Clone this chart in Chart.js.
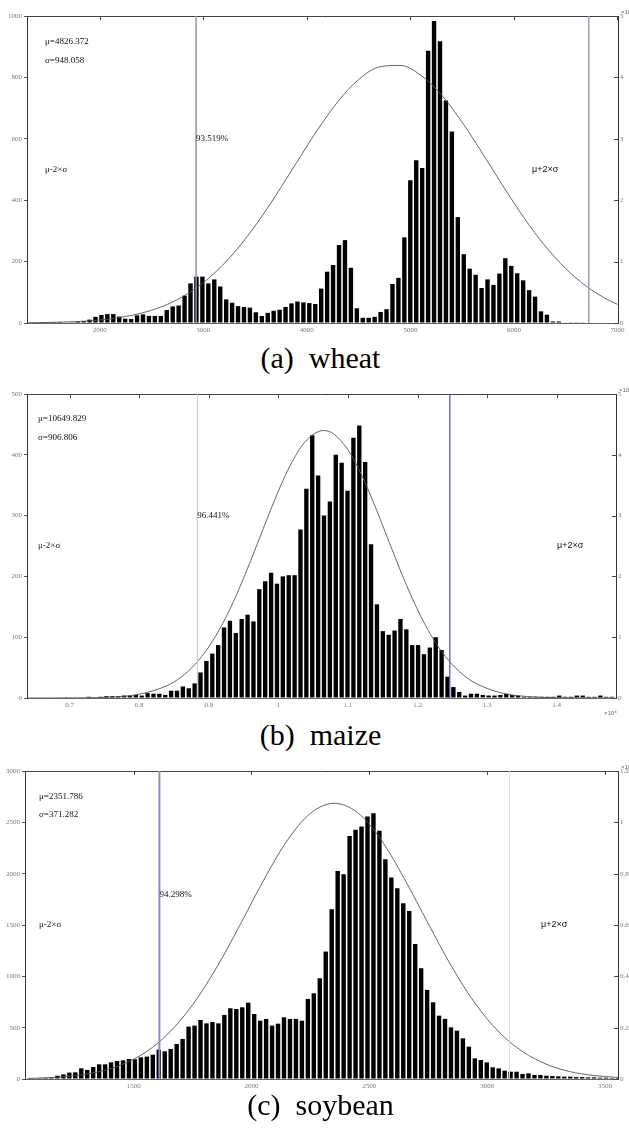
<!DOCTYPE html>
<html>
<head>
<meta charset="utf-8">
<script src="https://cdn.jsdelivr.net/npm/chart.js@4.4.1/dist/chart.umd.min.js"></script>
<style>
  html, body { margin: 0; padding: 0; background: #fff; }
  body { position: relative; width: 629px; height: 1132px; overflow: hidden; }
  canvas { position: absolute; left: 0; }
  .cap { position: absolute; left: 6px; width: 629px; text-align: center;
         font: 30px/30px "Liberation Serif", "Times New Roman", serif; color: #000; white-space: pre; }
</style>
</head>
<body>
<canvas id="wheat" width="629" height="340" style="top:0px"></canvas>
<div class="cap" style="top:343px">(a)  wheat</div>
<canvas id="maize" width="629" height="340" style="top:375px"></canvas>
<div class="cap" style="top:720px">(b)  maize</div>
<canvas id="soybean" width="629" height="340" style="top:755px"></canvas>
<div class="cap" style="top:1090px">(c)  soybean</div>
<script>
// histogram counts per bin
const wheatCounts = [3,3,3,3,2,1,6,6,11,20, 26,29,29,21,14,13,25,28,23,23,
  23,42,54,57,89,129,151,151,129,142, 119,77,66,55,52,50,35,23,33,40,
  43,52,64,70,67,65,62,112,167,189, 254,270,180,48,17,17,20,36,45,127,
  147,279,465,530,505,887,984,918,725,624, 345,224,177,157,114,142,124,161,211,186,
  162,139,107,86,38,27,5,5,2,1, 1,1];
const maizeCounts = [1,0,0,0,2,1,2,3,3,3, 4,4,5,4,8,7,7,5,12,12,
  19,16,24,42,61,73,87,116,127,107, 130,137,126,179,192,206,188,200,202,202,
  277,344,432,366,300,323,400,387,341,428, 448,388,253,154,110,104,111,130,113,87,
  87,72,83,100,79,35,18,10,4,7, 7,5,4,4,5,7,5,4,2,2,
  2,2,2,2,4,2,2,4,4,2, 2,4,2,2];
const soyCounts = [5,6,8,10,14,32,45,62,65,104, 88,117,143,143,162,175,182,195,192,211,
  218,237,286,270,292,341,390,510,520,575, 542,555,542,624,689,682,698,744,633,568,
  585,520,539,601,585,585,568,780,835,981, 1241,1654,2027,1995,2368,2427,2459,2557,2589,2417,
  2141,1962,1858,1712,1637,1316,1079,868,747,617, 585,503,471,396,315,201,185,162,114,104,
  81,71,71,49,55,39,39,32,29,26, 23,23,19,19,16,16,13,13,10,10];

// first bin centre and bin width
const wheatBins = [1442, 57.37];
const maizeBins = [6938, 84.5];
const soyBins = [1050, 25.3];

// fitted normal curves, density (right axis units)
const wheatCurveX = [1300,1500,1700,1900,2100,2300,2500,2700,2900,3100,3300,3500,3700,3900,4100,
  4300,4500,4700,4900,5100,5300,5500,5700,5900,6100,6300,6500,6700,6900,7000];
const wheatCurveY = [0.004,0.009,0.018,0.036,0.067,0.121,0.207,0.340,0.534,0.802,1.151,1.581,2.078,2.611,3.138,
  3.607,3.966,4.171,4.195,4.036,3.714,3.269,2.752,2.216,1.707,1.257,0.886,0.597,0.385,0.304];
const maizeCurveX = [6400,6800,7200,7600,8000,8400,8600,8800,9000,9200,9400,9600,9800,10000,10200,10400,10650,
  10800,11000,11200,11400,11600,11800,12000,12200,12400,12600,12800,13200,13600,14000,14400,14800];
const maizeCurveY = [0.000,0.001,0.003,0.015,0.062,0.203,0.342,0.549,0.841,1.225,1.702,2.251,2.836,3.403,3.890,4.235,4.399,
  4.339,4.083,3.659,3.124,2.541,1.968,1.452,1.020,0.683,0.436,0.265,0.084,0.022,0.005,0.001,0.000];
const soyCurveX = [1050,1150,1250,1350,1450,1550,1650,1750,1850,1950,2050,2150,2250,2350,2450,
  2550,2650,2750,2850,2950,3050,3150,3250,3350,3450,3555];
const soyCurveY = [0.002,0.006,0.013,0.028,0.056,0.104,0.180,0.289,0.431,0.598,0.772,0.927,1.035,1.074,1.038,
  0.932,0.778,0.605,0.437,0.293,0.183,0.107,0.058,0.029,0.014,0.006];

// tick labels
const wheatXTicks = [2000,3000,4000,5000,6000,7000];
const maizeXTicks = [7000,8000,9000,10000,11000,12000,13000,14000];
const soyXTicks = [1500,2000,2500,3000,3500];
const wheatYTicks = [0,200,400,600,800,1000];
const maizeYTicks = [0,100,200,300,400,500];
const soyYTicks = [0,500,1000,1500,2000,2500,3000];
const wheatY2Ticks = [0,1,2,3,4,5];
const maizeY2Ticks = [0,1,2,3,4,5];
const soyY2Ticks = [0,0.2,0.4,0.6,0.8,1,1.2];

// mean, std and share inside mu±2sigma
const wheatStats = [4826.372, 948.058, "93.519%"];
const maizeStats = [10649.829, 906.806, "96.441%"];
const soyStats = [2351.786, 371.282, "94.298%"];

const serif = '"Liberation Serif", "Times New Roman", serif';
const sans = '"Liberation Sans", Arial, sans-serif';

// sigma lines, frame, inward ticks and the text notes
function overlay(p) {
  return {
    id: "overlay",
    afterDatasetsDraw(chart) {
      const { ctx, chartArea: a, scales } = chart;
      const x = scales.x, y = scales.y, y2 = scales.y2;
      const [mu, sigma, pct] = p.stats;
      ctx.save();

      // top frame + inward ticks
      ctx.strokeStyle = "#444";
      ctx.lineWidth = 1;
      ctx.beginPath();
      ctx.moveTo(a.left, a.top + 0.5);
      ctx.lineTo(a.right, a.top + 0.5);
      x.ticks.forEach((t) => {
        const px = Math.round(x.getPixelForValue(t.value)) + 0.5;
        ctx.moveTo(px, a.top);
        ctx.lineTo(px, a.top + 4);
      });
      y2.ticks.forEach((t) => {
        const py = Math.round(y2.getPixelForValue(t.value)) + 0.5;
        ctx.moveTo(a.right - 4, py);
        ctx.lineTo(a.right, py);
      });
      ctx.stroke();

      // mu ± 2 sigma
      [[mu - 2 * sigma, p.loColor, p.loWidth], [mu + 2 * sigma, p.hiColor, p.hiWidth]].forEach(([v, c, w]) => {
        const px = x.getPixelForValue(v);
        ctx.strokeStyle = c;
        ctx.lineWidth = w;
        ctx.beginPath();
        ctx.moveTo(px, a.top);
        ctx.lineTo(px, a.bottom);
        ctx.stroke();
      });

      ctx.fillStyle = "#111";
      ctx.textBaseline = "middle";
      ctx.font = "9px " + serif;
      ctx.fillText("\u03bc=" + mu.toFixed(3), a.left + p.pad, y.getPixelForValue(p.textY[0]));
      ctx.fillText("\u03c3=" + sigma.toFixed(3), a.left + p.pad, y.getPixelForValue(p.textY[1]));
      ctx.fillText(pct, x.getPixelForValue(mu - 2 * sigma), y.getPixelForValue(p.textY[2]));
      ctx.fillText("\u03bc-2\u00d7\u03c3", a.left + p.pad, y.getPixelForValue(p.textY[3]));
      ctx.font = "9px " + sans;
      ctx.fillText("\u03bc+2\u00d7\u03c3", a.right - p.hiPad, y.getPixelForValue(p.textY[3]));

      // axis multipliers
      ctx.fillStyle = "#666";
      ctx.font = "6px " + sans;
      ctx.fillText(p.expo, a.right + 3, a.top - 4);
      if (p.xExpo) ctx.fillText(p.xExpo, a.right - 12, a.bottom + 15);
      ctx.restore();
    },
  };
}

function drawPanel(id, p) {
  const bars = p.counts.map((c, i) => ({ x: p.bins[0] + i * p.bins[1], y: c }));
  const curve = p.curveX.map((v, i) => ({ x: v, y: p.curveY[i] }));
  const tickFont = { size: 7, family: serif };
  return new Chart(document.getElementById(id), {
    type: "bar",
    data: {
      datasets: [
        {
          type: "line",
          data: curve,
          yAxisID: "y2",
          borderColor: "#555",
          borderWidth: 0.9,
          pointRadius: 0,
          fill: false,
          cubicInterpolationMode: "monotone",
          order: 0,
        },
        {
          type: "bar",
          data: bars,
          yAxisID: "y",
          backgroundColor: "#000",
          barPercentage: 0.74,
          categoryPercentage: 1,
          order: 1,
        },
      ],
    },
    options: {
      responsive: false,
      animation: false,
      devicePixelRatio: 1,
      layout: { padding: { top: p.topPad, left: 0, right: 0, bottom: 0 } },
      plugins: { legend: { display: false }, tooltip: { enabled: false } },
      scales: {
        x: {
          type: "linear",
          min: p.xMin,
          max: p.xMax,
          offset: false,
          afterBuildTicks: (s) => { s.ticks = p.xTicks.map((v) => ({ value: v })); },
          ticks: { font: tickFont, color: "#777", padding: 3, maxRotation: 0, autoSkip: false,
                   callback: p.xFmt || ((v) => String(v)) },
          grid: { drawOnChartArea: false, drawTicks: false },
          border: { color: "#666" },
          afterFit: (s) => { s.height = p.xH; s.paddingLeft = 0; s.paddingRight = 0; },
        },
        y: {
          position: "left",
          min: 0,
          max: p.yTicks[p.yTicks.length - 1],
          afterBuildTicks: (s) => { s.ticks = p.yTicks.map((v) => ({ value: v })); },
          ticks: { font: tickFont, color: "#777", padding: 2, callback: (v) => String(v) },
          grid: { drawOnChartArea: false, tickLength: 3, color: "#555" },
          border: { color: "#333" },
          afterFit: (s) => { s.width = p.leftW; s.paddingTop = 0; s.paddingBottom = 0; },
        },
        y2: {
          position: "right",
          min: 0,
          max: p.y2Ticks[p.y2Ticks.length - 1],
          afterBuildTicks: (s) => { s.ticks = p.y2Ticks.map((v) => ({ value: v })); },
          ticks: { font: tickFont, color: "#777", padding: 2, callback: (v) => String(v) },
          grid: { drawOnChartArea: false, drawTicks: false },
          border: { color: "#333" },
          afterFit: (s) => { s.width = p.rightW; s.paddingTop = 0; s.paddingBottom = 0; },
        },
      },
    },
    plugins: [overlay(p)],
  });
}

drawPanel("wheat", {
  counts: wheatCounts, bins: wheatBins, curveX: wheatCurveX, curveY: wheatCurveY,
  xTicks: wheatXTicks, yTicks: wheatYTicks, y2Ticks: wheatY2Ticks, stats: wheatStats,
  xMin: 1297, xMax: 7005, topPad: 16, xH: 17, leftW: 27, rightW: 11,
  pad: 18, hiPad: 86, textY: [915, 855, 600, 500],
  loColor: "#9090c8", loWidth: 1.5, hiColor: "#9a9ac8", hiWidth: 1.5,
  expo: "\u00d710\u207b\u2074",
});

drawPanel("maize", {
  counts: maizeCounts, bins: maizeBins, curveX: maizeCurveX, curveY: maizeCurveY,
  xTicks: maizeXTicks, yTicks: maizeYTicks, y2Ticks: maizeY2Ticks, stats: maizeStats,
  xMin: 6388, xMax: 14852, topPad: 19, xH: 17, leftW: 27, rightW: 13,
  pad: 11, hiPad: 59, textY: [459, 428, 300, 250],
  loColor: "#c6c6d8", loWidth: 1, hiColor: "#5a5ab4", hiWidth: 1.3,
  expo: "\u00d710\u207b\u2074", xExpo: "\u00d710\u2074",
  xFmt: (v) => String(v / 10000),
});

drawPanel("soybean", {
  counts: soyCounts, bins: soyBins, curveX: soyCurveX, curveY: soyCurveY,
  xTicks: soyXTicks, yTicks: soyYTicks, y2Ticks: soyY2Ticks, stats: soyStats,
  xMin: 1039, xMax: 3555, topPad: 16, xH: 16, leftW: 25, rightW: 11,
  pad: 14, hiPad: 77, textY: [2750, 2571, 1800, 1500],
  loColor: "#8c8cc6", loWidth: 2, hiColor: "#dcdcdc", hiWidth: 1,
  expo: "\u00d710\u207b\u00b3",
});
</script>
</body>
</html>
